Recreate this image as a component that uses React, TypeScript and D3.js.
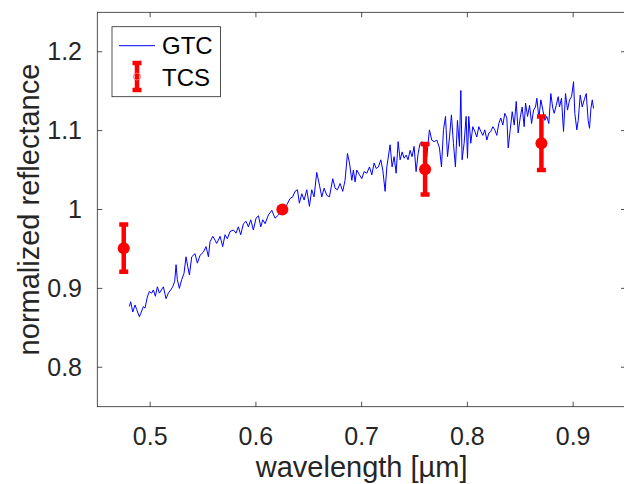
import React from 'react';
import * as d3 from 'd3';

// GTC spectrum
const gtcWavelength = [
  0.4803, 0.4816, 0.4835, 0.4857, 0.4873, 0.4898, 0.4910, 0.4936, 0.4951, 0.4973,
  0.4992, 0.5014, 0.5030, 0.5049, 0.5068, 0.5087, 0.5106, 0.5125, 0.5150, 0.5172,
  0.5194, 0.5213, 0.5232, 0.5245, 0.5257, 0.5276, 0.5298, 0.5320, 0.5339, 0.5355,
  0.5371, 0.5393, 0.5424, 0.5446, 0.5472, 0.5503, 0.5528, 0.5551, 0.5566, 0.5592,
  0.5614, 0.5629, 0.5661, 0.5686, 0.5708, 0.5730, 0.5755, 0.5787, 0.5812, 0.5834,
  0.5856, 0.5882, 0.5907, 0.5929, 0.5951, 0.5976, 0.6001, 0.6024, 0.6046, 0.6065,
  0.6087, 0.6118, 0.6150, 0.6181, 0.6213, 0.6244, 0.6292, 0.6323, 0.6348, 0.6370,
  0.6393, 0.6411, 0.6434, 0.6456, 0.6481, 0.6506, 0.6528, 0.6550, 0.6575, 0.6601,
  0.6623, 0.6645, 0.6670, 0.6695, 0.6727, 0.6749, 0.6771, 0.6796, 0.6821, 0.6843,
  0.6866, 0.6885, 0.6907, 0.6922, 0.6938, 0.6954, 0.6979, 0.7001, 0.7023, 0.7049,
  0.7074, 0.7096, 0.7118, 0.7137, 0.7159, 0.7181, 0.7200, 0.7222, 0.7238,
  0.7269, 0.7288, 0.7307, 0.7326, 0.7345, 0.7364, 0.7383, 0.7402, 0.7421, 0.7439,
  0.7458, 0.7477, 0.7496, 0.7515, 0.7534, 0.7553, 0.7572, 0.7591, 0.7616, 0.7641,
  0.7663, 0.7686, 0.7711, 0.7736, 0.7755, 0.7774, 0.7793, 0.7812, 0.7831, 0.7849,
  0.7868, 0.7887, 0.7906, 0.7925, 0.7938, 0.7950, 0.7969, 0.7988, 0.8001, 0.8013,
  0.8032, 0.8051, 0.8070, 0.8089, 0.8108, 0.8127, 0.8146, 0.8165, 0.8184, 0.8203,
  0.8222, 0.8241, 0.8259, 0.8278, 0.8297, 0.8316, 0.8335, 0.8354, 0.8373, 0.8386,
  0.8405, 0.8424, 0.8443, 0.8462, 0.8480, 0.8499, 0.8518, 0.8537, 0.8550, 0.8569,
  0.8588, 0.8607, 0.8626, 0.8644, 0.8657, 0.8676, 0.8695, 0.8714, 0.8733, 0.8751,
  0.8770, 0.8789, 0.8808, 0.8821, 0.8840, 0.8859, 0.8871, 0.8890, 0.8909, 0.8928,
  0.8947, 0.8966, 0.8985, 0.9004, 0.9016, 0.9035, 0.9048, 0.9067, 0.9086, 0.9105,
  0.9124, 0.9142, 0.9155, 0.9168, 0.9181, 0.9193,
];

const gtcReflectance = [
  0.877, 0.883, 0.870, 0.879, 0.873, 0.864, 0.868, 0.877, 0.875, 0.889,
  0.896, 0.894, 0.898, 0.890, 0.902, 0.894, 0.898, 0.902, 0.887, 0.894,
  0.898, 0.902, 0.909, 0.930, 0.911, 0.900, 0.911, 0.919, 0.940, 0.928,
  0.917, 0.940, 0.944, 0.932, 0.942, 0.946, 0.953, 0.940, 0.959, 0.966,
  0.961, 0.957, 0.966, 0.953, 0.968, 0.963, 0.972, 0.974, 0.970, 0.978,
  0.968, 0.982, 0.985, 0.978, 0.987, 0.974, 0.989, 0.992, 0.978, 0.987,
  0.982, 0.993, 0.999, 0.989, 0.993, 0.999, 1.006, 1.014, 1.016, 1.023,
  1.025, 1.008, 1.020, 1.012, 1.025, 1.004, 1.025, 1.016, 1.047, 1.031,
  1.016, 1.027, 1.018, 1.016, 1.039, 1.027, 1.025, 1.033, 1.023, 1.037,
  1.071, 1.059, 1.037, 1.050, 1.035, 1.050, 1.044, 1.039, 1.048, 1.046,
  1.054, 1.044, 1.059, 1.052, 1.054, 1.063, 1.050, 1.023, 1.054,
  1.082, 1.054, 1.067, 1.046, 1.086, 1.063, 1.073, 1.065, 1.069, 1.063,
  1.075, 1.067, 1.080, 1.048, 1.071, 1.084, 1.086, 1.075, 1.067, 1.101,
  1.088, 1.086, 1.088, 1.078, 1.054, 1.101, 1.118, 1.067, 1.092, 1.120,
  1.084, 1.054, 1.113, 1.080, 1.151, 1.063, 1.084, 1.118, 1.065, 1.118,
  1.084, 1.105, 1.099, 1.092, 1.105, 1.099, 1.094, 1.101, 1.088, 1.097,
  1.099, 1.105, 1.101, 1.094, 1.109, 1.116, 1.107, 1.122, 1.116, 1.078,
  1.101, 1.124, 1.107, 1.137, 1.097, 1.116, 1.130, 1.105, 1.135, 1.118,
  1.132, 1.109, 1.126, 1.130, 1.141, 1.116, 1.139, 1.126, 1.113, 1.118,
  1.109, 1.147, 1.128, 1.122, 1.132, 1.143, 1.130, 1.141, 1.099, 1.147,
  1.126, 1.139, 1.143, 1.162, 1.122, 1.101, 1.113, 1.145, 1.130, 1.139,
  1.147, 1.113, 1.103, 1.128, 1.139, 1.128,
];

// TCS photometry with error bars
const tcsWavelength = [0.475, 0.625, 0.76, 0.87];
const tcsReflectance = [0.951, 1.0, 1.051, 1.084];
const tcsError = [0.03, 0.0, 0.032, 0.034];

const xTicks = [0.5, 0.6, 0.7, 0.8, 0.9];
const yTicks = [0.8, 0.9, 1, 1.1, 1.2];
const legendLabels = ['GTC', 'TCS'];

const W = 624;
const H = 484;
const left = 97.3, right = 626, top = 12.3, bottom = 406.7;
const axisColor = '#262626';
const font = '"Liberation Sans", Arial, Helvetica, sans-serif';

export default function App() {
  const x = d3.scaleLinear().domain([0.45, 0.95]).range([left, right]);
  const y = d3.scaleLinear().domain([0.75, 1.25]).range([bottom, top]);

  const gtc = gtcWavelength.map((w, i) => [w, gtcReflectance[i]] as [number, number]);
  const line = d3.line<[number, number]>()
    .x(d => x(d[0]))
    .y(d => y(d[1]));

  const tickLen = 5;
  const capW = 9;

  return (
    <svg width={W} height={H} style={{ position: 'absolute', left: 0, top: 0, background: '#fff' }}
      fontFamily={font}>
      <rect x={0} y={0} width={W} height={H} fill="#fff" />

      <defs>
        <clipPath id="plotArea">
          <rect x={left} y={top} width={right - left} height={bottom - top} />
        </clipPath>
      </defs>

      {/* axes box */}
      <rect x={left} y={top} width={right - left} height={bottom - top}
        fill="none" stroke={axisColor} strokeWidth={0.8} />

      {xTicks.map(t => (
        <g key={'x' + t}>
          <line x1={x(t)} x2={x(t)} y1={bottom} y2={bottom - tickLen} stroke={axisColor} strokeWidth={0.8} />
          <line x1={x(t)} x2={x(t)} y1={top} y2={top + tickLen} stroke={axisColor} strokeWidth={0.8} />
          <text x={x(t)} y={445} textAnchor="middle" fontSize={25} fill={axisColor}>{t}</text>
        </g>
      ))}

      {yTicks.map(t => (
        <g key={'y' + t}>
          <line x1={left} x2={left + tickLen} y1={y(t)} y2={y(t)} stroke={axisColor} strokeWidth={0.8} />
          <line x1={right} x2={right - tickLen} y1={y(t)} y2={y(t)} stroke={axisColor} strokeWidth={0.8} />
          <text x={82} y={y(t)} dy="0.35em" textAnchor="end" fontSize={25} fill={axisColor}>{t}</text>
        </g>
      ))}

      <text x={(left + right) / 2} y={477} textAnchor="middle" fontSize={29} fill={axisColor}>
        wavelength [µm]
      </text>
      <text transform={`translate(39,${(top + bottom) / 2}) rotate(-90)`} textAnchor="middle"
        fontSize={29} fill={axisColor}>
        normalized reflectance
      </text>

      <g clipPath="url(#plotArea)">
        <path d={line(gtc) || ''} fill="none" stroke="#0000ff" strokeWidth={1} strokeLinejoin="round" />

        {tcsWavelength.map((w, i) => {
          const cx = x(w);
          const y0 = y(tcsReflectance[i] - tcsError[i]);
          const y1 = y(tcsReflectance[i] + tcsError[i]);
          return (
            <g key={'tcs' + i} stroke="#ff0000" strokeWidth={4.5}>
              <line x1={cx} x2={cx} y1={y0} y2={y1} />
              <line x1={cx - capW / 2} x2={cx + capW / 2} y1={y0} y2={y0} />
              <line x1={cx - capW / 2} x2={cx + capW / 2} y1={y1} y2={y1} />
              <circle cx={cx} cy={y(tcsReflectance[i])} r={6} fill="#ff0000" stroke="none" />
            </g>
          );
        })}
      </g>

      {/* legend */}
      <g>
        <rect x={112} y={26.7} width={108.5} height={70} fill="#fff" stroke={axisColor} strokeWidth={0.8} />
        <line x1={119} x2={155} y1={45.7} y2={45.7} stroke="#0000ff" strokeWidth={1} />
        <text x={162} y={45.7} dy="0.35em" fontSize={24} fill="#000">{legendLabels[0]}</text>
        <g stroke="#ff0000" strokeWidth={4.5}>
          <line x1={137} x2={137} y1={63} y2={90} />
          <line x1={132.5} x2={141.5} y1={63} y2={63} />
          <line x1={132.5} x2={141.5} y1={90} y2={90} />
        </g>
        <circle cx={137} cy={76.5} r={3.5} fill="none" stroke="#ff6060" strokeWidth={1} />
        <text x={162} y={77.5} dy="0.35em" fontSize={24} fill="#000">{legendLabels[1]}</text>
      </g>
    </svg>
  );
}
